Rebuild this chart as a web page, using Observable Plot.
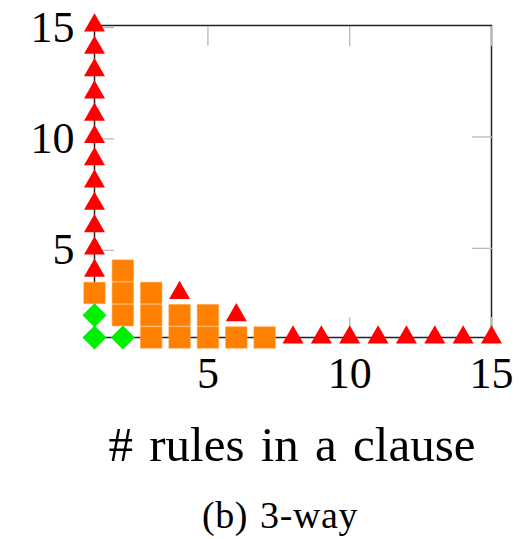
<!DOCTYPE html>
<html>
<head>
<meta charset="utf-8">
<script src="https://cdn.jsdelivr.net/npm/d3@7"></script>
<script src="https://cdn.jsdelivr.net/npm/@observablehq/plot@0.6"></script>
<style>
  html, body { margin: 0; padding: 0; background: #fff; }
  #wrap { position: relative; width: 531px; height: 539px; font-family: "Liberation Serif", "Times New Roman", serif; color: #000; }
  #xlabel { position: absolute; left: 0; width: 584px; text-align: center; top: 420px; font-size: 49px; line-height: 1; white-space: nowrap; word-spacing: 4px; }
  #caption { position: absolute; left: 0; width: 560px; text-align: center; top: 496px; font-size: 38px; line-height: 1; white-space: nowrap; word-spacing: 2px; letter-spacing: 0.6px; }
</style>
</head>
<body>
<div id="wrap">
  <div id="chart"></div>
  <div id="xlabel"># rules in a clause</div>
  <div id="caption">(b) 3-way</div>
</div>
<script>
// Green diamonds
const greenX = [1, 1, 2];
const greenY = [1, 2, 1];
// Orange squares
const orangeX = [1, 2, 2, 2, 3, 3, 3, 4, 4, 5, 5, 6, 7];
const orangeY = [3, 2, 3, 4, 1, 2, 3, 1, 2, 1, 2, 1, 1];
// Red triangles
const redX = [1, 1, 1, 1, 1, 1, 1, 1, 1, 1, 1, 1, 4, 6, 8, 9, 10, 11, 12, 13, 14, 15];
const redY = [4, 5, 6, 7, 8, 9, 10, 11, 12, 13, 14, 15, 3, 2, 1, 1, 1, 1, 1, 1, 1, 1];

const xTicks = [5, 10, 15];
const yTicks = [5, 10, 15];
const rightTicks = [5, 10];

const toRows = (xs, ys) => xs.map((x, i) => ({x, y: ys[i]}));
const green = toRows(greenX, greenY);
const orange = toRows(orangeX, orangeY);
const red = toRows(redX, redY);

const tickGray = "#b8b8b8";

const plot = Plot.plot({
  width: 531,
  height: 400,
  marginLeft: 94,
  marginRight: 40,
  marginTop: 25,
  marginBottom: 63,
  style: {fontFamily: "Liberation Serif, serif", fontSize: "44px", background: "white", color: "black", overflow: "visible"},
  x: {domain: [1, 15]},
  y: {domain: [1, 15]},
  marks: [
    Plot.frame({stroke: "#222", strokeWidth: 1.5}),
    Plot.axisX(xTicks, {anchor: "bottom", tickSize: -20, tickPadding: 39, stroke: tickGray, strokeWidth: 1.3, fill: "black", fontSize: 44, label: null}),
    Plot.axisX(xTicks, {anchor: "top", tickSize: -20, stroke: tickGray, strokeWidth: 1.3, fill: "none", label: null}),
    Plot.axisY(yTicks, {anchor: "left", tickSize: -20, tickPadding: 40, dy: 2, stroke: tickGray, strokeWidth: 1.3, fill: "black", fontSize: 44, label: null}),
    Plot.axisY(rightTicks, {anchor: "right", tickSize: -20, stroke: tickGray, strokeWidth: 1.3, fill: "none", label: null}),
    Plot.dot(green, {x: "x", y: "y", symbol: "diamond2", r: 10.8, fill: "#00ee00", stroke: "none"}),
    Plot.dot(orange, {x: "x", y: "y", symbol: "square", r: 12.1, fill: "#ff8000", stroke: "#ffa040", strokeWidth: 0.6}),
    Plot.dot(red, {x: "x", y: "y", symbol: "triangle", r: 7.8, fill: "#ff0000", stroke: "none"})
  ]
});
document.getElementById("chart").appendChild(plot);
</script>
</body>
</html>
